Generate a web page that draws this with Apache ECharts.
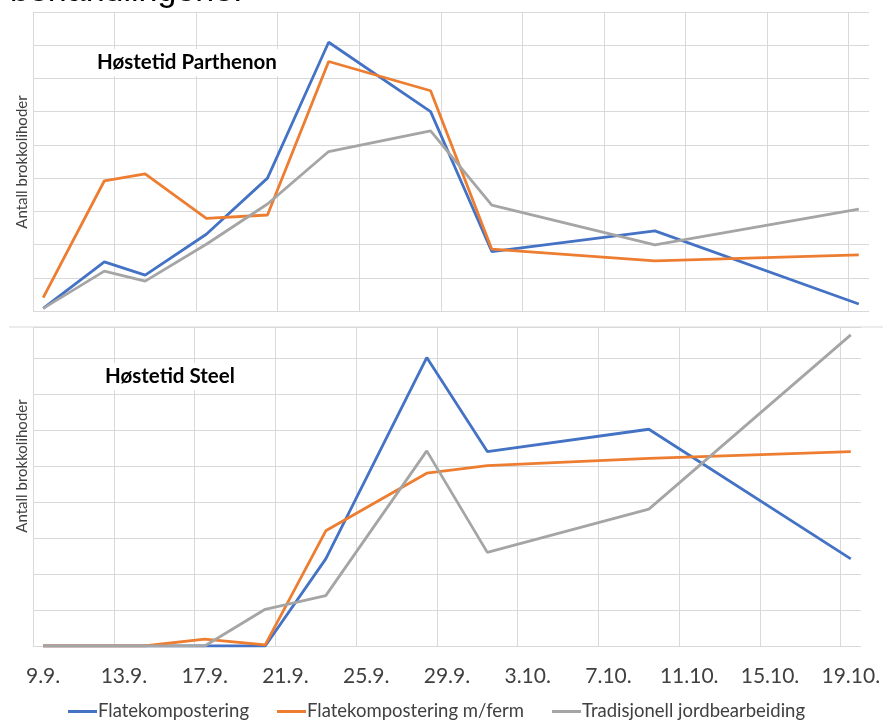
<!DOCTYPE html>
<html>
<head>
<meta charset="utf-8">
<script src="https://cdn.jsdelivr.net/npm/echarts@6/dist/echarts.min.js"></script>
<style>
html,body{margin:0;padding:0;background:#fff;}
#chart{width:883px;height:722px;}
</style>
</head>
<body>
<div id="chart"></div>
<script>
// Day-by-day category axis (9.9. – 19.10.)
const days = ['9.9.','10.9.','11.9.','12.9.','13.9.','14.9.','15.9.','16.9.','17.9.','18.9.','19.9.','20.9.','21.9.','22.9.','23.9.','24.9.','25.9.','26.9.','27.9.','28.9.','29.9.','30.9.',
  '1.10.','2.10.','3.10.','4.10.','5.10.','6.10.','7.10.','8.10.','9.10.','10.10.','11.10.','12.10.','13.10.','14.10.','15.10.','16.10.','17.10.','18.10.','19.10.'];
// Harvest dates
const harvestDates = ['9.9.','12.9.','14.9.','17.9.','20.9.','23.9.','28.9.','1.10.','9.10.','19.10.'];

const seriesNames = ['Flatekompostering','Flatekompostering m/ferm','Tradisjonell jordbearbeiding'];

// Høstetid Parthenon
const parthenonFlate     = [0.08, 1.48, 1.08, 2.31, 4.00, 8.09, 6.00, 1.79, 2.41, 0.21];
const parthenonFlateFerm = [0.40, 3.92, 4.13, 2.79, 2.89, 7.51, 6.63, 1.86, 1.51, 1.69];
const parthenonTrad      = [0.08, 1.20, 0.90, 2.01, 3.22, 4.80, 5.42, 3.19, 1.99, 3.07];

// Høstetid Steel
const steelFlate     = [0, 0, 0, 0, 0.00, 2.42, 8.01, 5.40, 6.02, 2.42];
const steelFlateFerm = [0, 0, 0, 0.19, 0.03, 3.20, 4.80, 5.01, 5.21, 5.40];
const steelTrad      = [0, 0, 0, 0, 1.02, 1.40, 5.42, 2.60, 3.80, 8.64];

const colors = ['#4472C4','#ED7D31','#A5A5A5'];
const gridColor = '#d9d9d9';
const font = 'Lato';

function pairs(vals){ return harvestDates.map((d,i)=>[d, vals[i]]); }

// eleven visible vertical lines, the closing line at the right edge stays invisible
const vLineColors = [];
for (let i = 0; i < 11; i++) vLineColors.push(gridColor);
vLineColors.push('rgba(0,0,0,0)');

function xAxisCfg(gridIndex, showLabels){
  return {
    type:'category', gridIndex, data: days, boundaryGap:true,
    axisLine:{show:false}, axisTick:{show:false},
    axisLabel:{show:showLabels, interval:3, margin:20, fontSize:21, color:'#404040', fontFamily:font},
    splitLine:{show:true, interval:3, lineStyle:{color:vLineColors, width:1}}
  };
}
function yAxisCfg(gridIndex, max){
  return {
    type:'value', gridIndex, min:0, max, interval:1,
    axisLine:{show:false}, axisTick:{show:false}, axisLabel:{show:false},
    splitLine:{show:true, lineStyle:{color:gridColor, width:1}}
  };
}
function lineSeries(name, idx, axisIdx, vals){
  return {
    name, type:'line', xAxisIndex:axisIdx, yAxisIndex:axisIdx,
    data: pairs(vals), symbol:'none', smooth:false,
    lineStyle:{width:2.8, color:colors[idx]}, itemStyle:{color:colors[idx]},
    emphasis:{disabled:true}
  };
}

const chart = echarts.init(document.getElementById('chart'), null, {renderer:'canvas'});
chart.setOption({
  animation:false,
  backgroundColor:'#fff',
  color: colors,
  grid:[
    {left:33, top:12, width:836, height:299},
    {left:33, top:327, width:836, height:319}
  ],
  xAxis:[xAxisCfg(0,false), xAxisCfg(1,true)],
  yAxis:[yAxisCfg(0,9), yAxisCfg(1,8.86)],
  title:[
    {text:'Høstetid Parthenon', left:91, top:49, padding:[3,6,3,6], backgroundColor:'#fff',
      textStyle:{fontSize:20.5, fontWeight:'bold', color:'#000', fontFamily:font}},
    {text:'Høstetid Steel', left:99, top:363, padding:[3,6,3,6], backgroundColor:'#fff',
      textStyle:{fontSize:20.5, fontWeight:'bold', color:'#000', fontFamily:font}}
  ],
  legend:{
    left:68, top:702, padding:0, itemWidth:29, itemHeight:20, itemGap:28,
    icon:'path://M0,8.5 L29,8.5 L29,11.5 L0,11.5 Z',
    textStyle:{fontSize:18.5, color:'#404040', fontFamily:font, padding:[0,0,0,-4]},
    data: seriesNames
  },
  graphic:[
    {type:'text', x:10, y:-8, style:{text:'behandlingene.', fontSize:34, fontFamily:'Liberation Sans', fill:'#000', verticalAlign:'middle', align:'left'}},
    {type:'line', shape:{x1:9, y1:327, x2:883, y2:327}, style:{stroke:gridColor, lineWidth:1}},
    {type:'text', x:22, y:162, rotation:Math.PI/2, style:{text:'Antall brokkolihoder', fontSize:15, fontFamily:font, fill:'#404040', align:'center', verticalAlign:'middle'}},
    {type:'text', x:22, y:466, rotation:Math.PI/2, style:{text:'Antall brokkolihoder', fontSize:15, fontFamily:font, fill:'#404040', align:'center', verticalAlign:'middle'}}
  ],
  series:[
    lineSeries(seriesNames[0],0,0,parthenonFlate),
    lineSeries(seriesNames[1],1,0,parthenonFlateFerm),
    lineSeries(seriesNames[2],2,0,parthenonTrad),
    lineSeries(seriesNames[0],0,1,steelFlate),
    lineSeries(seriesNames[1],1,1,steelFlateFerm),
    lineSeries(seriesNames[2],2,1,steelTrad)
  ]
});
</script>
</body>
</html>
